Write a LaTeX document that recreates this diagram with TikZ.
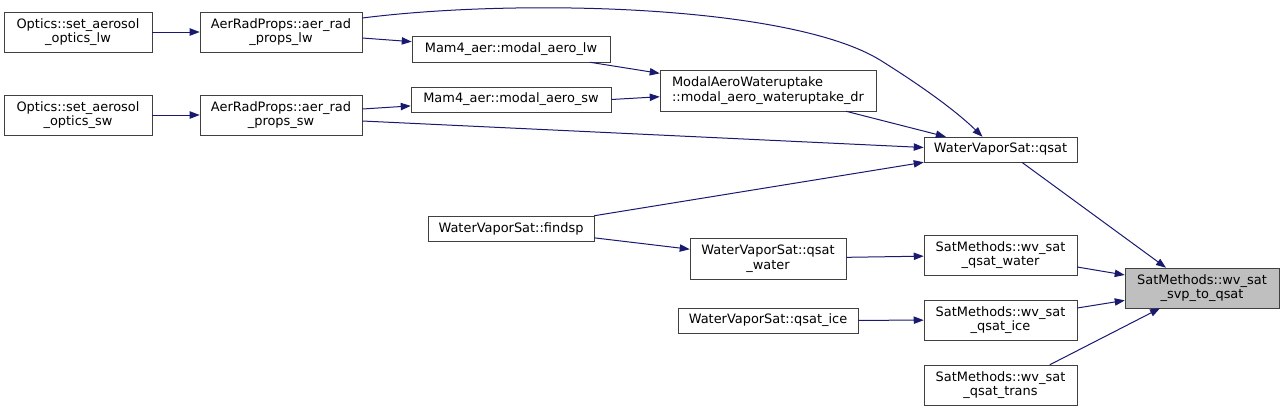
\documentclass[tikz,border=0pt]{standalone}
\usepackage{fontspec}
\setmainfont{DejaVu Sans}
\usetikzlibrary{arrows}
\usepgflibrary{arrows.meta}
\definecolor{edgeblue}{HTML}{191970}
\definecolor{boxline}{HTML}{404040}
\definecolor{rootgray}{HTML}{BFBFBF}

\begin{document}
\begin{tikzpicture}
    [x=0.75pt, y=-0.75pt,
    fn/.style={draw=boxline, fill=white, inner sep=0pt, align=center,
        font=\fontsize{9.7}{11}\selectfont},
    call/.style={draw=edgeblue, line width=0.75pt,
        -{Triangle[length=7.5pt,width=5.5pt]}}]
        \useasboundingbox (0,0) rectangle (1284,412);
        %% Graph callers of wv_sat_svp_to_qsat
        \node[fn, minimum width=111pt, minimum height=30pt] (O1) at (78,32) {Optics::set\_aerosol\\\_optics\_lw};
        \node[fn, minimum width=121.5pt, minimum height=30pt] (A1) at (281,32) {AerRadProps::aer\_rad\\\_props\_lw};
        \node[fn, minimum width=148.5pt, minimum height=19.5pt] (M1) at (511,49) {Mam4\_aer::modal\_aero\_lw};
        \node[fn, minimum width=111pt, minimum height=30pt] (O2) at (78,115) {Optics::set\_aerosol\\\_optics\_sw};
        \node[fn, minimum width=121.5pt, minimum height=30pt] (A2) at (281,115) {AerRadProps::aer\_rad\\\_props\_sw};
        \node[fn, minimum width=150pt, minimum height=18.75pt] (M2) at (511,99.5) {Mam4\_aer::modal\_aero\_sw};
        \node[fn, minimum width=162pt, minimum height=30.75pt, align=left] (MA) at (768,90.5) {ModalAeroWateruptake\\::modal\_aero\_wateruptake\_dr};
        \node[fn, minimum width=114.75pt, minimum height=18.75pt] (Q) at (1000.5,149.5) {WaterVaporSat::qsat};
        \node[fn, minimum width=124.5pt, minimum height=18.75pt] (F) at (511,228.5) {WaterVaporSat::findsp};
        \node[fn, minimum width=117pt, minimum height=30.75pt] (QW) at (768,258.5) {WaterVaporSat::qsat\\\_water};
        \node[fn, minimum width=135pt, minimum height=18.75pt] (QI) at (768,320.5) {WaterVaporSat::qsat\_ice};
        \node[fn, minimum width=114.75pt, minimum height=30pt] (S1) at (1000.5,255) {SatMethods::wv\_sat\\\_qsat\_water};
        \node[fn, minimum width=114.75pt, minimum height=30pt] (S2) at (1000.5,320) {SatMethods::wv\_sat\\\_qsat\_ice};
        \node[fn, minimum width=114.75pt, minimum height=30pt] (S3) at (1000.5,385) {SatMethods::wv\_sat\\\_qsat\_trans};
        \node[fn, fill=rootgray, minimum width=115.5pt, minimum height=30pt] (R) at (1202,288) {SatMethods::wv\_sat\\\_svp\_to\_qsat};

        \draw[call] (O1) to (A1);
        \draw[call] (O2) to (A2);
        \draw[call] ([yshift=-4.5pt]A1.east) to (M1);
        \draw[call] ([yshift=10.5pt]A1.east) .. controls (520,-2) and (790,5) .. (880,60)
            .. controls (920,85) and (955,110) .. ([xshift=-13.5pt]Q.north);
        \draw[call] ([xshift=59.25pt]M1.south) to (MA);
        \draw[call] ([yshift=4.5pt]A2.east) to (M2);
        \draw[call] (M2.east) to (MA);
        \draw[call] ([yshift=-4.5pt]A2.east) to ([yshift=1.5pt]Q.west);
        \draw[call] ([xshift=58.5pt]MA.south) to ([xshift=-41pt]Q.north);
        \draw[call] (F.north east) to (Q.south west);
        \draw[call] ([yshift=-7pt]F.east) to (QW);
        \draw[call] (QW) to (S1);
        \draw[call] (QI) to (S2);
        \draw[call] ([xshift=16pt]Q.south) to ([xshift=-27pt]R.north);
        \draw[call] ([yshift=-9pt]S1.east) to (R);
        \draw[call] ([yshift=9pt]S2.east) to (R);
        \draw[call] ([xshift=37pt]S3.north) to ([xshift=-31.5pt]R.south);
    \end{tikzpicture}
\end{document}
